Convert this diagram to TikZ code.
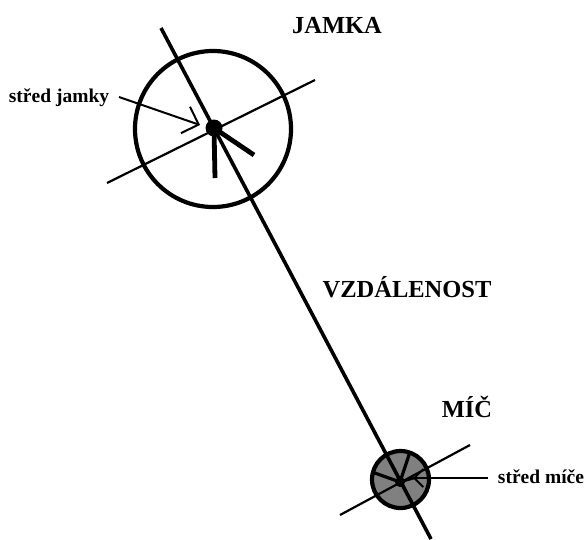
\documentclass[tikz,border=0pt]{standalone}
\usepackage{fontspec}
\setmainfont{Liberation Serif}
\usetikzlibrary{arrows.meta}
\definecolor{ballgrey}{RGB}{128,128,128}
\begin{document}
\begin{tikzpicture}[x=1pt,y=-1pt,
  axis/.style={line width=3.6pt},
  thin line/.style={line width=2.2pt},
  rim/.style={line width=4.2pt},
  spoke/.style={line width=4.8pt},
  pointer/.style={line width=2pt,-{Straight Barb[length=14pt,width=28pt,line width=2pt]}},
  bigtitle/.style={font=\bfseries\fontsize{24.5}{26}\selectfont,inner sep=0pt,anchor=base},
  smalltitle/.style={font=\bfseries\fontsize{19.5}{21}\selectfont,inner sep=0pt,anchor=base}]
\useasboundingbox (0,0) rectangle (585,539);

% hole
\coordinate (hc) at (213,129);
\coordinate (hd) at (214,128);
\draw[rim] (hc) circle[radius=78];

% ball
\coordinate (bc) at (400.5,479.5);
\coordinate (bd) at (400,482);
\fill[ballgrey] (bc) circle[radius=28.5];

% line joining the two centres
\coordinate (la) at (161,28);
\coordinate (lb) at (431,539);
\draw[axis] (la) -- (lb);

% cross line at the hole
\coordinate (ha) at (107,183);
\coordinate (hb) at (315,80);
\draw[thin line] (ha) -- (hb);

% short spokes at the hole centre
\coordinate (hs1) at (215,178);
\coordinate (hs2) at (254,155);
\draw[spoke] (hd) -- (hs1);
\draw[spoke] (hd) -- (hs2);
\fill (hd) circle[radius=8.5];

% cross line and spokes at the ball
\coordinate (ba) at (340,515);
\coordinate (bb) at (470,445);
\draw[thin line] (ba) -- (bb);
\coordinate (bs1) at (410,452);
\coordinate (bs2) at (372,472);
\coordinate (bs3) at (414,478);
\draw[line width=3.2pt] (bd) -- (bs1);
\draw[line width=3.2pt] (bd) -- (bs2);
\draw[line width=2.6pt] (bd) -- (bs3);
\draw[rim] (bc) circle[radius=28.5];
\fill (bd) circle[radius=5];

% labels
\node[bigtitle] (jamka) at (337,33) {JAMKA};
\node[bigtitle] (vzd) at (407,297) {VZDÁLENOST};
\node[bigtitle] (mic) at (467,417) {MÍČ};
\node[smalltitle] (sj) at (59,102) {střed jamky};
\node[smalltitle] (sm) at (541,483) {střed míče};

% pointers
\coordinate (pj0) at (119,97);
\coordinate (pj1) at (200,125);
\draw[pointer] (pj0) -- (pj1);
\coordinate (pm0) at (488,478);
\coordinate (pm1) at (413,478);
\draw[line width=2.4pt,-{Straight Barb[length=9pt,width=18pt,line width=1.8pt]}] (pm0) -- (pm1);
\end{tikzpicture}
\end{document}
